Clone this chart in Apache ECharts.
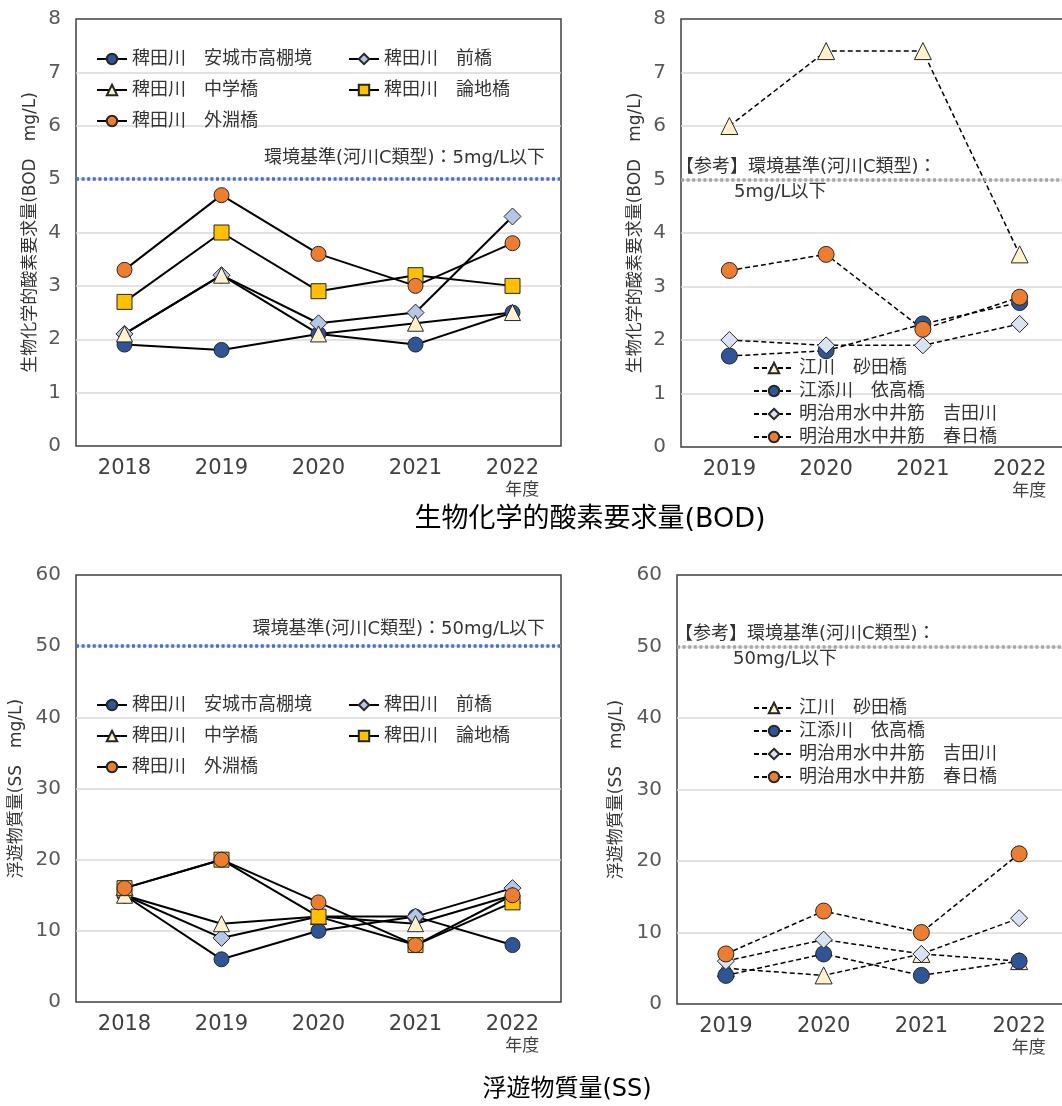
<!DOCTYPE html>
<html><head><meta charset="utf-8">
<script src="https://cdn.jsdelivr.net/npm/echarts/dist/echarts.min.js"></script>
<style>html,body{margin:0;padding:0;background:#fff}#c{width:1062px;height:1106px}</style>
</head><body><div id="c"></div>
<script>
const FONT = '"DejaVu Sans", "Noto Sans CJK JP", sans-serif';

// categories
const yearsLeft = ['2018', '2019', '2020', '2021', '2022'];
const yearsRight = ['2019', '2020', '2021', '2022'];

// series names
const hiedaNames = ['稗田川　安城市高棚境', '稗田川　前橋', '稗田川　中学橋', '稗田川　論地橋', '稗田川　外淵橋'];
const otherNames = ['江川　砂田橋', '江添川　依高橋', '明治用水中井筋　吉田川', '明治用水中井筋　春日橋'];

// BOD (mg/L)
const bodAnjo     = [1.9, 1.8, 2.1, 1.9, 2.5];
const bodMaebashi = [2.1, 3.2, 2.3, 2.5, 4.3];
const bodChugaku  = [2.1, 3.2, 2.1, 2.3, 2.5];
const bodRonchi   = [2.7, 4.0, 2.9, 3.2, 3.0];
const bodTobuchi  = [3.3, 4.7, 3.6, 3.0, 3.8];
const bodSunada   = [6.0, 7.4, 7.4, 3.6];
const bodYoritaka = [1.7, 1.8, 2.3, 2.7];
const bodYoshida  = [2.0, 1.9, 1.9, 2.3];
const bodKasuga   = [3.3, 3.6, 2.2, 2.8];

// SS (mg/L)
const ssAnjo     = [15, 6, 10, 12, 8];
const ssMaebashi = [15, 9, 12, 12, 16];
const ssChugaku  = [15, 11, 12, 11, 15];
const ssRonchi   = [16, 20, 12, 8, 14];
const ssTobuchi  = [16, 20, 14, 8, 15];
const ssSunada   = [5, 4, 7, 6];
const ssYoritaka = [4, 7, 4, 6];
const ssYoshida  = [6, 9, 7, 12];
const ssKasuga   = [7, 13, 10, 21];

// standards
const bodLimit = 5;
const ssLimit = 50;

const leftStyles = [
  { symbol: 'circle', size: 15, color: '#2F5597' },
  { symbol: 'diamond', size: 17, color: '#B4C7E7' },
  { symbol: 'triangle', size: 16, color: '#FFF2CC' },
  { symbol: 'rect', size: 15, color: '#FFC000' },
  { symbol: 'circle', size: 15, color: '#ED7D31' }
];
const rightStyles = [
  { symbol: 'triangle', size: 17, color: '#FFF2CC' },
  { symbol: 'circle', size: 16, color: '#2F5597' },
  { symbol: 'diamond', size: 17, color: '#DAE3F3' },
  { symbol: 'circle', size: 16, color: '#ED7D31' }
];

function mkSeries(name, data, gi, st, dashed, extra) {
  return Object.assign({
    type: 'line', name: name, data: data,
    xAxisIndex: gi, yAxisIndex: gi,
    symbol: st.symbol, symbolSize: st.size,
    lineStyle: { color: '#000', width: dashed ? 1.5 : 2, type: dashed ? [5, 3] : 'solid' },
    itemStyle: { color: st.color, borderColor: '#262626', borderWidth: 1 },
    emphasis: { disabled: true },
    animation: false
  }, extra || {});
}

function limitLine(value, color, label) {
  return {
    silent: true, symbol: 'none', animation: false,
    data: [{ yAxis: value }],
    lineStyle: { color: color, width: 3.5, type: [3, 2.6], cap: 'butt' },
    label: label
  };
}

function xAxisCfg(gi, cats) {
  return {
    gridIndex: gi, type: 'category', data: cats, boundaryGap: true,
    axisLine: { show: false }, axisTick: { show: false },
    axisLabel: {
      interval: 0, margin: 11, fontSize: 21, lineHeight: 24, color: '#404040', fontFamily: FONT,
      formatter: function (v) { return v === '2022' ? '{a|2022}\n{b|年度}' : v; },
      rich: {
        a: { fontSize: 21, lineHeight: 24, color: '#404040', fontFamily: FONT },
        b: { fontSize: 17, lineHeight: 20, color: '#404040', fontFamily: FONT, align: 'right' }
      }
    }
  };
}
function yAxisCfg(gi, max, interval, name, gap) {
  return {
    gridIndex: gi, type: 'value', min: 0, max: max, interval: interval,
    axisLine: { show: false }, axisTick: { show: false },
    axisLabel: { fontSize: 20, color: '#595959', margin: 15, fontFamily: FONT },
    splitLine: { show: true, showMinLine: false, showMaxLine: false, lineStyle: { color: '#D9D9D9', width: 1.5 } },
    name: name, nameLocation: 'middle', nameGap: gap,
    nameTextStyle: { fontSize: 17, color: '#333', fontFamily: FONT }
  };
}

const gridBase = { show: true, borderColor: '#404040', borderWidth: 1.5, backgroundColor: 'transparent', containLabel: false, outerBoundsMode: 'none' };

const leftBodData = [bodAnjo, bodMaebashi, bodChugaku, bodRonchi, bodTobuchi];
const rightBodData = [bodSunada, bodYoritaka, bodYoshida, bodKasuga];
const leftSsData = [ssAnjo, ssMaebashi, ssChugaku, ssRonchi, ssTobuchi];
const rightSsData = [ssSunada, ssYoritaka, ssYoshida, ssKasuga];

function refLabel(limit, distX) {
  return {
    position: 'insideStart', distance: [distX, 0],
    formatter: '{a|【参考】環境基準(河川C類型)：}\n{b|' + limit + 'mg/L以下}',
    rich: {
      a: { fontSize: 18, lineHeight: 25, color: '#333', fontFamily: FONT },
      b: { fontSize: 18, lineHeight: 25, color: '#333', fontFamily: FONT, padding: [0, 0, 0, 58] }
    }
  };
}

const series = [];
hiedaNames.forEach(function (n, i) {
  series.push(mkSeries(n, leftBodData[i], 0, leftStyles[i], false, i === 0 ? {
    markLine: limitLine(bodLimit, '#4472C4', {
      position: 'insideEndTop', distance: [16, 12], formatter: '環境基準(河川C類型)：' + bodLimit + 'mg/L以下',
      fontSize: 18, color: '#333', fontFamily: FONT
    })
  } : null));
});
otherNames.forEach(function (n, i) {
  series.push(mkSeries(n, rightBodData[i], 1, rightStyles[i], true, i === 0 ? {
    markLine: limitLine(bodLimit, '#A6A6A6', refLabel(bodLimit, -5))
  } : null));
});
hiedaNames.forEach(function (n, i) {
  series.push(mkSeries(n, leftSsData[i], 2, leftStyles[i], false, i === 0 ? {
    markLine: limitLine(ssLimit, '#4472C4', {
      position: 'insideEndTop', distance: [16, 8], formatter: '環境基準(河川C類型)：' + ssLimit + 'mg/L以下',
      fontSize: 18, color: '#333', fontFamily: FONT
    })
  } : null));
});
otherNames.forEach(function (n, i) {
  series.push(mkSeries(n, rightSsData[i], 3, rightStyles[i], true, i === 0 ? {
    markLine: limitLine(ssLimit, '#A6A6A6', refLabel(ssLimit, -2))
  } : null));
});

const legLeft = { orient: 'vertical', padding: 0, itemWidth: 30, itemHeight: 13, itemGap: 13, selectedMode: false,
  textStyle: { fontSize: 18, lineHeight: 18, color: '#333', fontFamily: FONT } };
const legRight = { orient: 'vertical', padding: 0, itemWidth: 40, itemHeight: 13, itemGap: 5, selectedMode: false,
  textStyle: { fontSize: 18, lineHeight: 18, color: '#333', fontFamily: FONT } };

const option = {
  backgroundColor: '#fff',
  animation: false,
  textStyle: { fontFamily: FONT },
  grid: [
    Object.assign({ left: 76, top: 19, width: 485, height: 427 }, gridBase),
    Object.assign({ left: 681, top: 19, width: 387, height: 428 }, gridBase),
    Object.assign({ left: 76, top: 575, width: 485, height: 427 }, gridBase),
    Object.assign({ left: 677, top: 575, width: 391, height: 429 }, gridBase)
  ],
  xAxis: [xAxisCfg(0, yearsLeft), xAxisCfg(1, yearsRight), xAxisCfg(2, yearsLeft), xAxisCfg(3, yearsRight)],
  yAxis: [
    yAxisCfg(0, 8, 1, '生物化学的酸素要求量(BOD　mg/L)', 37),
    yAxisCfg(1, 8, 1, '生物化学的酸素要求量(BOD　mg/L)', 37),
    yAxisCfg(2, 60, 10, '浮遊物質量(SS　mg/L)', 51),
    yAxisCfg(3, 60, 10, '浮遊物質量(SS　mg/L)', 52)
  ],
  legend: [
    Object.assign({ left: 96, top: 50, data: [hiedaNames[0], hiedaNames[2], hiedaNames[4]] }, legLeft),
    Object.assign({ left: 348, top: 50, data: [hiedaNames[1], hiedaNames[3]] }, legLeft),
    Object.assign({ left: 96, top: 696, data: [hiedaNames[0], hiedaNames[2], hiedaNames[4]] }, legLeft),
    Object.assign({ left: 348, top: 696, data: [hiedaNames[1], hiedaNames[3]] }, legLeft),
    Object.assign({ left: 753, top: 359, data: otherNames }, legRight),
    Object.assign({ left: 753, top: 699, data: otherNames }, legRight)
  ],
  graphic: [
    { type: 'text', x: 590, y: 520, silent: true,
      style: { text: '生物化学的酸素要求量(BOD)', fontSize: 27, fontFamily: FONT, fill: '#000', align: 'center', verticalAlign: 'middle' } },
    { type: 'text', x: 567, y: 1090, silent: true,
      style: { text: '浮遊物質量(SS)', fontSize: 24, fontFamily: FONT, fill: '#000', align: 'center', verticalAlign: 'middle' } }
  ],
  series: series
};

const chart = echarts.init(document.getElementById('c'), null, { renderer: 'canvas', width: 1062, height: 1106 });
chart.setOption(option);
</script>
</body></html>
